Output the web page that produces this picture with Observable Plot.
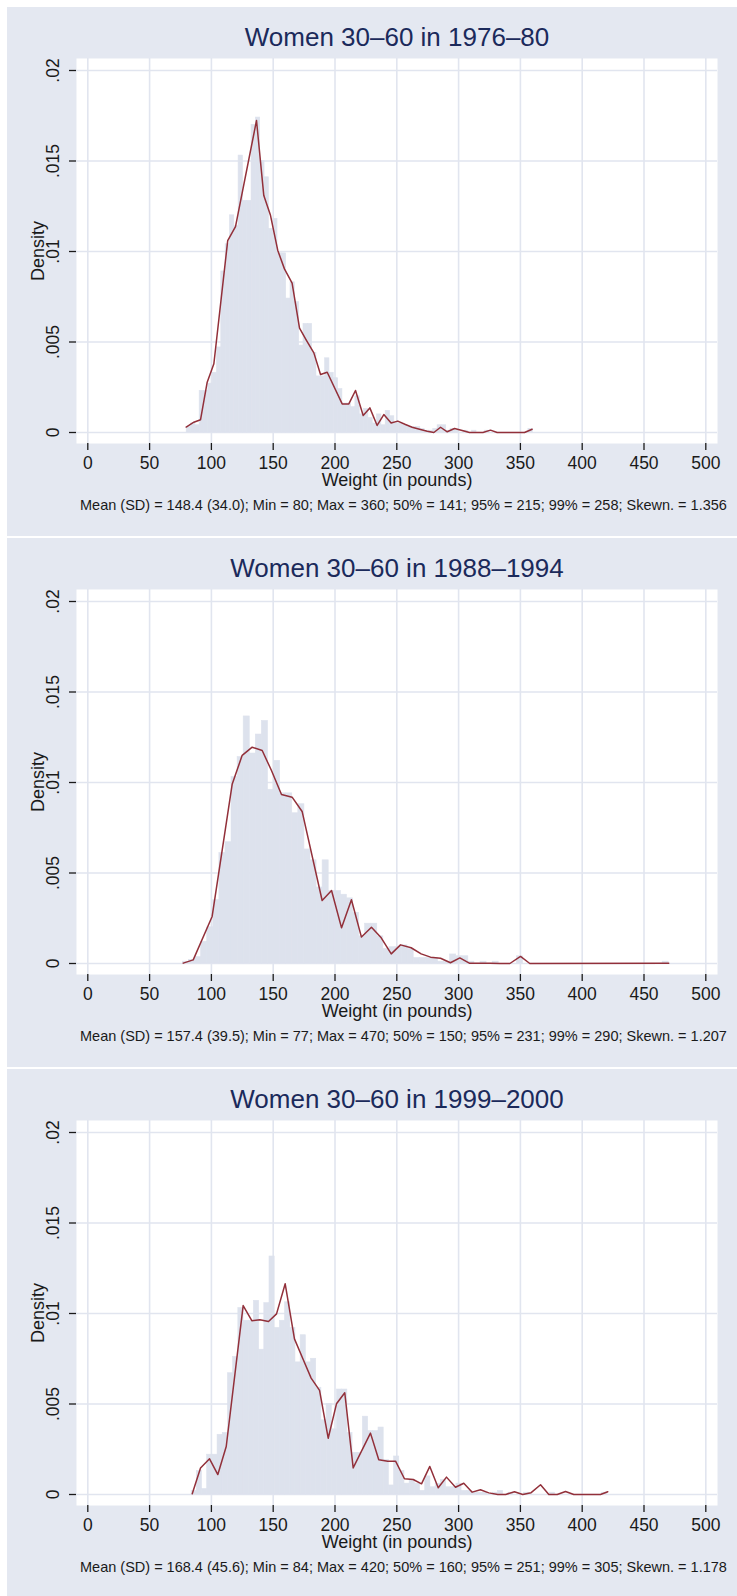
<!DOCTYPE html>
<html><head><meta charset="utf-8">
<script src="https://cdn.jsdelivr.net/npm/d3@7"></script>
<script src="https://cdn.jsdelivr.net/npm/@observablehq/plot@0.6"></script>
<style>
html,body{margin:0;padding:0;background:#fff;}
body{width:737px;height:1596px;overflow:hidden;position:relative;}
.panel{position:absolute;left:7px;width:730px;height:529px;}
.panel svg{display:block;}
</style></head><body>
<div id="p0" class="panel" style="top:7px"></div>
<div id="p1" class="panel" style="top:538px"></div>
<div id="p2" class="panel" style="top:1069px"></div>
<script>
// ---- shared axis data ----
const xTicks = [0, 50, 100, 150, 200, 250, 300, 350, 400, 450, 500];
const yTicks = [0, 0.005, 0.01, 0.015, 0.02];
const yTickLabels = ["0", ".005", ".01", ".015", ".02"];
const xTitle = "Weight (in pounds)";
const yTitle = "Density";

// ---- panel texts ----
const titles = [
  "Women 30\u201360 in 1976\u201380",
  "Women 30\u201360 in 1988\u20131994",
  "Women 30\u201360 in 1999\u20132000"
];
const captions = [
  "Mean (SD) = 148.4 (34.0); Min = 80; Max = 360; 50% = 141; 95% = 215; 99% = 258; Skewn. = 1.356",
  "Mean (SD) = 157.4 (39.5); Min = 77; Max = 470; 50% = 150; 95% = 231; 99% = 290; Skewn. = 1.207",
  "Mean (SD) = 168.4 (45.6); Min = 84; Max = 420; 50% = 160; 95% = 251; 99% = 305; Skewn. = 1.178"
];

// ---- histogram ranges (min, max) ----
const histMin = [80, 77, 84];
const histMax = [360, 470, 420];

// ---- histogram densities (80 equal bins from min to max) ----
const hist1976 = [
  .0003, .0005, .0004, .0023, .0023, .0027, .0033, .0047, .0089, .0104,
  .0120, .0114, .0153, .0128, .0128, .0170, .0174, .0150, .0141, .01125,
  .0118, .0099, .0099, .0074, .0083, .0072, .0048, .0060, .0060, .0044,
  .0031, .0031, .0041, .0033, .0030, .0024, .0016, .0016, .0014, .0020,
  .0010, .0013, .0008, .0005, .0010, .0004, .0012, .0009, .0005, .0005,
  .0004, .0003, .0003, .0003, .0002, .0001, .0001, .0002, .0004, .0004,
  .0001, .0002, .0001, 0, .0001, 0, .0001, 0, 0, .0001,
  0, 0, 0, 0, 0, 0, 0, 0, 0, .0002
];
const hist1988 = [
  .0001, .0002, .00035, .0012, .0020, .0035, .0061, .0067, .0103, .0114,
  .01365, .0116, .01265, .0134, .0096, .0112, .0094, .0094, .0083, .0088,
  .0063, .0057, .0042, .0057, .0040, .0040, .0038, .0036, .0028, .0015,
  .0022, .0022, .0015, .0008, .0009, .0009, .0010, .0008, .0003, .0003,
  .0003, .0003, .0001, .0001, .0005, .0004, .0004, .0001, 0, .0001,
  0, .0001, 0, 0, 0, .0004, 0, 0, 0, 0,
  0, 0, 0, 0, 0, 0, 0, 0, 0, 0,
  0, 0, 0, 0, 0, 0, 0, 0, 0, .0001
];
const hist1999 = [
  .0002, .0013, .0003, .0022, .0022, .0033, .0034, .0067, .0076, .0103,
  .0096, .0096, .0107, .0080, .01057, .01315, .0092, .0096, .01062, .0092,
  .0073, .0088, .0073, .0075, .0059, .0041, .0050, .0036, .0058, .0058,
  .0034, .0023, .0023, .0043, .0035, .0035, .0037, .0019, .0005, .0021,
  .0013, .0006, .0008, .0006, .0002, .0010, .0004, .0006, .0008, .0004,
  .0004, .0006, .0002, .0002, .0001, .0001, .0001, 0, .0001, .0002,
  0, .0001, 0, 0, .0001, 0, 0, 0, 0, .0001,
  0, 0, 0, 0, 0, 0, 0, 0, 0, .0001
];

// ---- frequency-polygon line (weight, density) ----
const lineX1976 = [79.6, 85.8, 91.2, 96.6, 102, 113.2, 119.5, 136.5, 142.4, 147.8, 153.7, 159.1, 165.3, 171.3, 177, 182.9, 188.3, 193.7, 205.8, 211.2, 216.6, 222.8, 228.2, 234.1, 239.5, 245.4, 250.8, 257, 262.4, 269.2, 274.6, 280, 285.4, 290.8, 296.7, 302.9, 308.8, 314.2, 319.7, 325.8, 331.2, 353.3, 359.5];
const lineY1976 = [.0003, .00057, .0007, .00278, .0038, .0106, .01138, .01724, .01309, .012, .01006, .00904, .00825, .00576, .00508, .0044, .0032, .00333, .00158, .00158, .00232, .00094, .00136, .00039, .00099, .00052, .00063, .00044, .00029, .00017, .00007, 0, .00029, .00004, .00022, .00011, 0, 0, 0, .00013, 0, 0, .00018];

const lineX1988 = [77.2, 85.3, 100.6, 116.8, 124.9, 133, 141.1, 148.6, 156.7, 165.3, 173.4, 189.6, 197.2, 205.3, 213.3, 221.4, 229.5, 237.4, 245.5, 253, 261.6, 269.7, 277.3, 285.4, 293.4, 301, 309, 317.3, 325.4, 333.5, 341.5, 350.1, 357.6, 470];
const lineY1988 = [.00002, .0002, .0026, .0099, .0115, .01195, .01177, .01066, .00934, .00919, .0084, .00348, .00403, .00197, .00352, .00146, .0020, .00142, .00053, .00103, .00087, .00053, .00035, .00029, .00004, .00031, .00001, .00002, .00002, 0, 0, .00039, 0, .00001];

const lineX1999 = [84.5, 91.2, 98.5, 105.2, 112, 125.7, 132.7, 139.2, 146.2, 152.7, 159.7, 167.2, 174, 180.7, 187.5, 194.5, 201.2, 207.9, 214.7, 228.7, 235.4, 242.7, 249, 256.2, 263.3, 270, 276.7, 283.5, 290.2, 297.5, 304.2, 311, 317.7, 324.4, 331.7, 338, 345.2, 351.9, 358.7, 366.3, 373, 379.8, 386.5, 393.2, 414.8, 420.7];
const lineY1999 = [.00004, .00146, .00197, .0011, .00265, .01044, .0096, .00965, .00956, .00998, .01164, .0086, .0075, .00643, .00575, .00311, .00501, .00562, .00147, .00339, .00192, .00184, .00184, .00087, .00083, .00059, .00155, .00037, .00096, .0004, .00062, .00013, .00026, .00009, 0, 0, .00015, 0, .0001, .00054, 0, 0, .00017, 0, 0, .00015];

// ---- styling ----
const BG = "#e4e8f1";
const BAR = "#dde2ed";
const GRID = "#e1e5ef";
const RED = "#92303a";
const NAVY = "#1b2a5b";
const FONT = "'Liberation Sans', Arial, Helvetica, sans-serif";

function makePanel(i, hist, lx, ly) {
  const lo = histMin[i], hi = histMax[i];
  const w = (hi - lo) / hist.length;
  const bars = hist.map((h, k) => ({x1: lo + k * w, x2: lo + (k + 1) * w, y1: 0, y2: h}));
  const pts = lx.map((x, k) => ({x, y: ly[k]}));
  return Plot.plot({
    width: 730, height: 529,
    marginLeft: 69, marginRight: 20, marginTop: 51, marginBottom: 93,
    x: {domain: [0, 500], insetLeft: 11.3, insetRight: 11.7},
    y: {domain: [0, 0.02], insetTop: 12, insetBottom: 11},
    style: {background: BG, fontFamily: FONT, color: "#1a1a1a"},
    marks: [
      Plot.frame({fill: "white", stroke: "none"}),
      Plot.gridX(xTicks, {stroke: GRID, strokeOpacity: 1, strokeWidth: 1.6}),
      Plot.gridY(yTicks, {stroke: GRID, strokeOpacity: 1, strokeWidth: 1.6}),
      Plot.rect(bars.filter(b => b.y2 > 0), {x1: "x1", x2: "x2", y1: "y1", y2: "y2", fill: BAR, stroke: BAR, strokeWidth: 0.6}),
      Plot.line(pts, {x: "x", y: "y", stroke: RED, strokeWidth: 1.5}),
      Plot.axisX(xTicks, {tickSize: 7, tickPadding: 6, fontSize: 17.5, line: true, label: null, tickFormat: d => String(d), strokeWidth: 1.3}),
      Plot.axisY(yTicks, {tickSize: 7, tickFormat: () => "", line: true, label: null, strokeWidth: 1.3}),
      Plot.text(yTicks, {y: d => d, text: yTickLabels, frameAnchor: "left", dx: -23, rotate: -90, fontSize: 17.5, textAnchor: "middle", lineAnchor: "middle"}),
      Plot.text([yTitle], {frameAnchor: "left", dx: -38.5, rotate: -90, fontSize: 18, textAnchor: "middle", lineAnchor: "middle"}),
      Plot.text([xTitle], {frameAnchor: "bottom", dy: 37, fontSize: 18, lineAnchor: "middle"}),
      Plot.text([titles[i]], {frameAnchor: "top", dy: -21, fontSize: 26, fill: NAVY, lineAnchor: "middle"}),
      Plot.text([captions[i]], {frameAnchor: "bottom-left", dx: 3.5, dy: 62, textAnchor: "start", lineAnchor: "middle", fontSize: 14.5})
    ]
  });
}

document.getElementById("p0").append(makePanel(0, hist1976, lineX1976, lineY1976));
document.getElementById("p1").append(makePanel(1, hist1988, lineX1988, lineY1988));
document.getElementById("p2").append(makePanel(2, hist1999, lineX1999, lineY1999));
</script>
</body></html>
